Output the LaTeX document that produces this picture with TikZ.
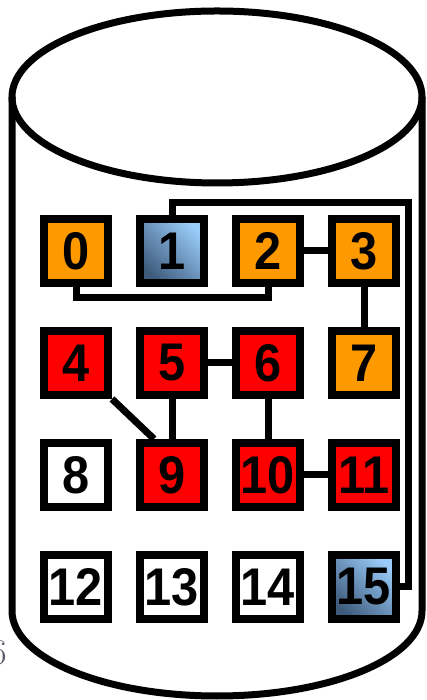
\documentclass[tikz,border=0pt]{standalone}
\usepackage{fontspec}
\newfontfamily\cellfont{Liberation Sans}[FakeStretch=0.92]
\usetikzlibrary{calc, positioning}
\definecolor{cellOrange}{HTML}{FF9900}
\definecolor{cellRed}{HTML}{FF0000}
\definecolor{blueLight}{HTML}{9ACCFA}
\definecolor{blueDark}{HTML}{3E5B7C}
\definecolor{smudgeGray}{HTML}{5A5A6A}

\begin{document}
\begin{tikzpicture}[
  x=1pt, y=1pt,
  node distance=40pt and 24pt,
  cell/.style={draw=black, line width=8pt, minimum size=64pt, inner sep=0pt,
               font=\cellfont\bfseries\fontsize{53}{53}\selectfont},
  done/.style={cell, fill=cellOrange},
  active/.style={cell, fill=cellRed},
  endpoint/.style={cell, top color=blueLight, bottom color=blueDark,
                   shading angle=-45},
  free/.style={cell, fill=white},
  link/.style={draw=black, line width=7pt},
  wall/.style={draw=black, line width=7pt}
]
\useasboundingbox (0,0) rectangle (427,700);

% cylinder
\draw[wall] (217,603) ellipse [x radius=205pt, y radius=86pt];
\draw[wall] (12,603) -- (12,89)
  arc[start angle=180, end angle=360, x radius=205pt, y radius=85pt]
  -- (422,603);

\node[text=smudgeGray, font=\fontsize{36}{36}\selectfont] (smudge) at (-1,47) {6};

% grid
\node[done] (n0) at (76,449) {0};
\node[endpoint, right=of n0] (n1) {1};
\node[done, right=of n1] (n2) {2};
\node[done, right=of n2] (n3) {3};

\node[active, below=of n0] (n4) {4};
\node[active, below=of n1] (n5) {5};
\node[active, below=of n2] (n6) {6};
\node[done, below=of n3] (n7) {7};

\node[free, below=of n4] (n8) {8};
\node[active, below=of n5] (n9) {9};
\node[active, below=of n6] (n10) {10};
\node[active, below=of n7] (n11) {11};

\node[free, below=of n8] (n12) {12};
\node[free, below=of n9] (n13) {13};
\node[free, below=of n10] (n14) {14};
\node[endpoint, below=of n11] (n15) {15};

% links
\draw[link] (n0.south) -- ++(0,-11) -| (n2.south);
\draw[link] (n2) -- (n3);
\draw[link] (n3) -- (n7);
\coordinate (turn) at (408,497);
\draw[link] (n1.north) |- (turn) |- (n15.east);
\draw[link] (n5) -- (n6);
\draw[link] (n4.south east) -- ($(n9.north west)!0.25!(n9.north east)$);
\draw[link] (n5) -- (n9);
\draw[link] (n6) -- (n10);
\draw[link] (n10) -- (n11);

\end{tikzpicture}
\end{document}
